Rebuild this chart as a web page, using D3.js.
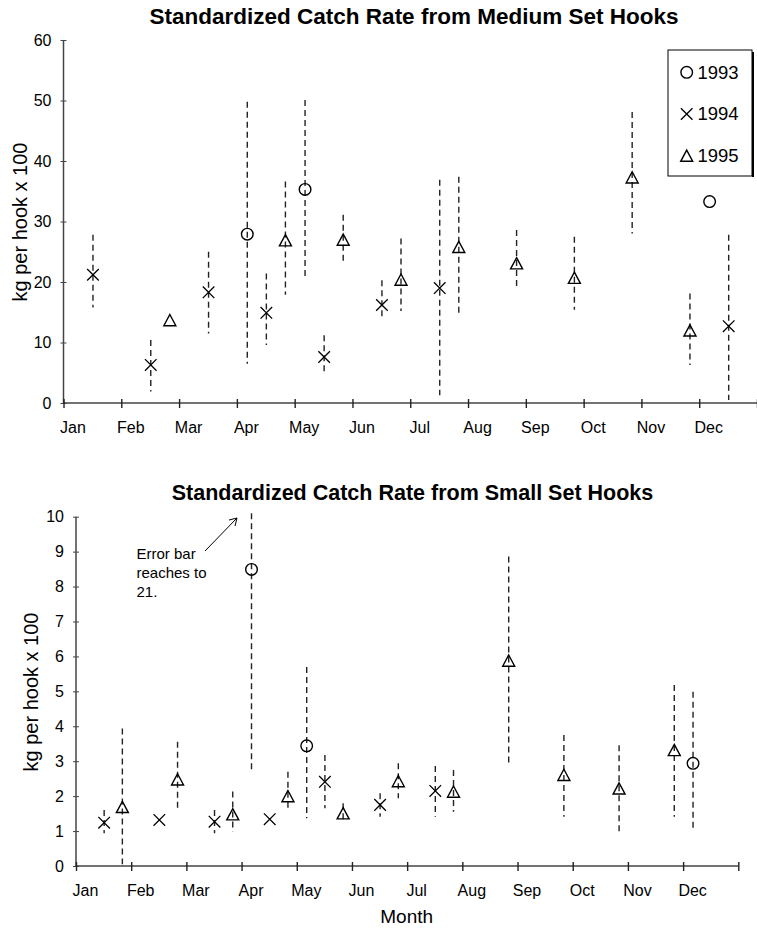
<!DOCTYPE html>
<html>
<head>
<meta charset="utf-8">
<script src="https://cdn.jsdelivr.net/npm/d3@7"></script>
<style>
  html, body { margin: 0; padding: 0; background: #fff; }
  svg { display: block; font-family: "Liberation Sans", Arial, sans-serif; }
</style>
</head>
<body>
<svg id="chart" width="757" height="929"></svg>
<script>
// ---------- data ----------
const months = ["Jan","Feb","Mar","Apr","May","Jun","Jul","Aug","Sep","Oct","Nov","Dec"];
const years = ["1993","1994","1995"];
const yearOffsets = [0.18, 0.51, 0.84];   // position of each year's point within a month

// [month, value, errorLow, errorHigh]
const medium1993 = [["Apr",27.9,6.5,49.8],["May",35.3,20.6,50.1],["Dec",33.3,null,null]];
const medium1994 = [["Jan",21.2,15.8,27.8],["Feb",6.3,1.9,10.4],["Mar",18.3,11.5,25.0],["Apr",14.9,9.6,21.4],
                    ["May",7.6,4.6,11.2],["Jun",16.2,13.7,20.3],["Jul",19.0,1.3,36.9],["Dec",12.7,0.5,27.8]];
const medium1995 = [["Feb",13.7,null,null],["Apr",26.9,17.9,36.6],["May",27.0,23.1,31.1],["Jun",20.4,15.2,27.2],
                    ["Jul",25.8,14.8,37.4],["Aug",23.1,19.3,28.6],["Sep",20.7,15.4,27.5],["Oct",37.3,28.0,48.1],
                    ["Nov",12.0,6.3,18.1]];

const small1993 = [["Apr",8.49,2.7,21],["May",3.44,1.37,5.7],["Dec",2.94,1.08,4.99]];
const small1994 = [["Jan",1.24,0.94,1.6],["Feb",1.32,null,null],["Mar",1.27,0.94,1.6],["Apr",1.34,null,null],
                   ["May",2.41,1.65,3.18],["Jun",1.75,1.41,2.08],["Jul",2.15,1.41,2.86]];
const small1995 = [["Jan",1.69,0.05,3.94],["Feb",2.48,1.55,3.56],["Mar",1.48,0.98,2.13],["Apr",2.0,1.55,2.7],
                   ["May",1.51,1.32,1.8],["Jun",2.43,1.94,2.94],["Jul",2.13,1.55,2.75],["Aug",5.88,2.89,8.86],
                   ["Sep",2.61,1.41,3.75],["Oct",2.22,0.94,3.46],["Nov",3.32,1.41,5.18]];

const mediumTicks = [0,10,20,30,40,50,60];
const smallTicks = [0,1,2,3,4,5,6,7,8,9,10];

const titleMedium = "Standardized Catch Rate from Medium Set Hooks";
const titleSmall = "Standardized Catch Rate from Small Set Hooks";
const yLabel = "kg per hook x 100";
const xLabel = "Month";
const noteLines = ["Error bar", "reaches to", "21."];

// ---------- drawing ----------
const svg = d3.select("#chart");

function marker(g, yearIdx, cx, cy) {
  if (yearIdx === 0) {
    g.append("circle").attr("cx", cx).attr("cy", cy).attr("r", 5.8)
      .attr("fill", "none").attr("stroke", "#000").attr("stroke-width", 1.4);
  } else if (yearIdx === 1) {
    const s = 5.8;
    g.append("path").attr("d", `M${cx-s},${cy-s}L${cx+s},${cy+s}M${cx-s},${cy+s}L${cx+s},${cy-s}`)
      .attr("fill", "none").attr("stroke", "#000").attr("stroke-width", 1.3);
  } else {
    const w = 6, h = 5.6;
    g.append("path").attr("d", `M${cx},${cy-h}L${cx+w},${cy+h}L${cx-w},${cy+h}Z`)
      .attr("fill", "none").attr("stroke", "#000").attr("stroke-width", 1.4);
  }
}

function panel(opts) {
  const { seriesList, x0, x1, yBottom, yTop, yMax, ticks, clip, title, titleX, titleY, titleSize,
          ylabX, ylabY } = opts;
  const x = d3.scaleLinear().domain([0, 12]).range([x0, x1]);
  const y = d3.scaleLinear().domain([0, yMax]).range([yBottom, yTop]);
  const g = svg.append("g");

  // title
  g.append("text").attr("x", titleX).attr("y", titleY).attr("text-anchor", "middle")
    .attr("font-weight", "bold").attr("font-size", titleSize).attr("fill", "#000").text(title);

  // y label
  g.append("text").attr("transform", `translate(${ylabX},${ylabY}) rotate(-90)`)
    .attr("text-anchor", "middle").attr("dominant-baseline", "central")
    .attr("font-size", 20).attr("fill", "#000").text(yLabel);

  // y axis
  const ya = g.append("g").attr("transform", `translate(${x0},0)`)
    .call(d3.axisLeft(y).tickValues(ticks).tickSize(3).tickPadding(9).tickFormat(d3.format("d")));
  ya.select(".domain").attr("stroke", "#444").attr("stroke-width", 1.5).attr("d", `M0,${yBottom}V${yTop}`);
  ya.selectAll(".tick line").attr("x1", -3).attr("x2", 3).attr("stroke", "#444");
  ya.selectAll(".tick text").attr("font-size", 16).attr("fill", "#000")
    .attr("font-family", "'Liberation Sans', Arial, sans-serif");

  // x axis
  const xa = g.append("g").attr("transform", `translate(0,${yBottom})`)
    .call(d3.axisBottom(x).tickValues(d3.range(13)).tickSize(5)
      .tickFormat(i => i < 12 ? months[i] : ""));
  xa.select(".domain").attr("stroke", "#444").attr("stroke-width", 1.5).attr("d", `M${x0},0H${x1}`);
  xa.selectAll(".tick line").attr("y1", -4).attr("y2", 5).attr("stroke", "#222").attr("stroke-width", 1.4);
  xa.selectAll(".tick text").attr("font-size", 16).attr("fill", "#000")
    .attr("font-family", "'Liberation Sans', Arial, sans-serif")
    .attr("x", 9).attr("y", 24).attr("dy", "0.35em");

  // error bars then markers
  seriesList.forEach((rows, yi) => {
    rows.forEach(([m, v, lo, hi]) => {
      const cx = x(months.indexOf(m) + yearOffsets[yi]);
      if (lo != null && hi != null) {
        g.append("line").attr("x1", cx).attr("x2", cx)
          .attr("y1", y(Math.min(hi, clip))).attr("y2", y(lo))
          .attr("stroke", "#222").attr("stroke-width", 1.4).attr("stroke-dasharray", "6,4");
      }
    });
  });
  seriesList.forEach((rows, yi) => {
    rows.forEach(([m, v]) => {
      marker(g, yi, x(months.indexOf(m) + yearOffsets[yi]), y(v));
    });
  });
  return { x, y, g };
}

panel({
  seriesList: [medium1993, medium1994, medium1995],
  x0: 63.5, x1: 757, yBottom: 403, yTop: 40, yMax: 60, ticks: mediumTicks, clip: 60,
  title: titleMedium, titleX: 414, titleY: 24, titleSize: 22.5, ylabX: 20, ylabY: 222
});

panel({
  seriesList: [small1993, small1994, small1995],
  x0: 76, x1: 738.3, yBottom: 866, yTop: 516.7, yMax: 10, ticks: smallTicks, clip: 10.1,
  title: titleSmall, titleX: 412.5, titleY: 500, titleSize: 21.5, ylabX: 31, ylabY: 692
});

// legend (top panel)
const lg = svg.append("g");
lg.append("rect").attr("x", 668).attr("y", 50).attr("width", 84).attr("height", 126)
  .attr("fill", "#fff").attr("stroke", "#000").attr("stroke-width", 1);
lg.append("line").attr("x1", 753).attr("x2", 753).attr("y1", 52).attr("y2", 177)
  .attr("stroke", "#000").attr("stroke-width", 2);
const legendYs = [72.3, 114, 155.7];
years.forEach((yr, i) => {
  marker(lg, i, 686.7, legendYs[i]);
  lg.append("text").attr("x", 697.5).attr("y", legendYs[i]).attr("dy", "0.35em")
    .attr("font-size", 18.5).attr("fill", "#000").text(yr);
});

// annotation
const ann = svg.append("g");
const noteYs = [554, 572.7, 591.7];
noteLines.forEach((t, i) => {
  ann.append("text").attr("x", 136.5).attr("y", noteYs[i]).attr("dy", "0.35em")
    .attr("font-size", 15).attr("fill", "#000").text(t);
});
ann.append("line").attr("x1", 205).attr("y1", 551).attr("x2", 237).attr("y2", 518)
  .attr("stroke", "#000").attr("stroke-width", 1);
ann.append("path").attr("d", "M229,520L237,518L235,526")
  .attr("fill", "none").attr("stroke", "#000").attr("stroke-width", 1);

// x title
svg.append("text").attr("x", 406.7).attr("y", 916).attr("dy", "0.35em").attr("text-anchor", "middle")
  .attr("font-size", 19).attr("fill", "#000").text(xLabel);
</script>
</body>
</html>
